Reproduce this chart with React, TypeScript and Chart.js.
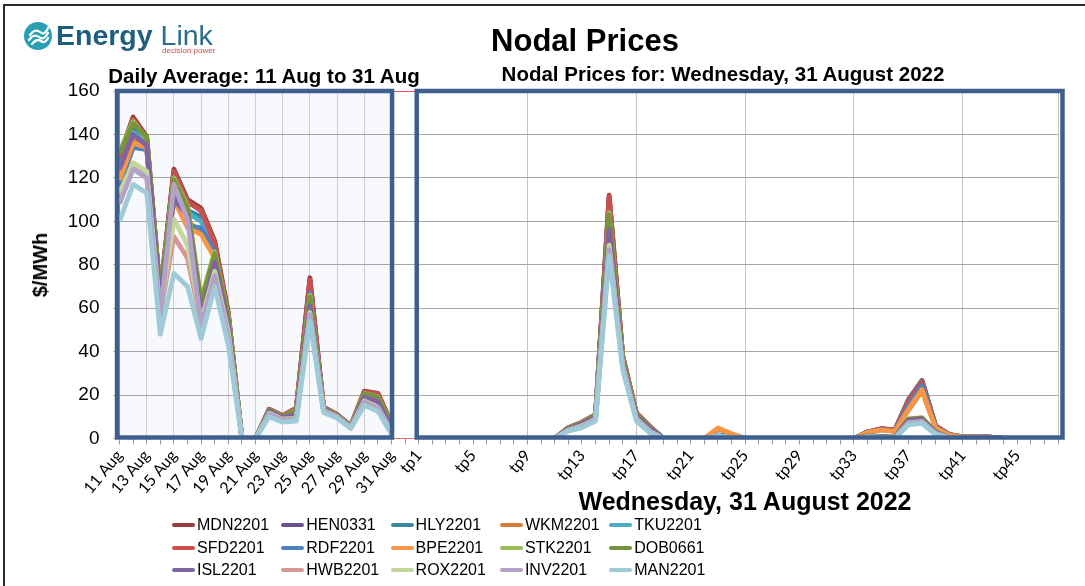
import React, { useEffect, useRef } from 'react';
import { Chart, registerables } from 'chart.js';

Chart.register(...registerables);

// ---------- categories / tick labels ----------
const days = [
  '11 Aug', '12 Aug', '13 Aug', '14 Aug', '15 Aug', '16 Aug', '17 Aug', '18 Aug', '19 Aug', '20 Aug',
  '21 Aug', '22 Aug', '23 Aug', '24 Aug', '25 Aug', '26 Aug', '27 Aug', '28 Aug', '29 Aug', '30 Aug', '31 Aug',
];
const periods = Array.from({ length: 48 }, (_, i) => `tp${i + 1}`);
const yMin = 0;
const yMax = 160;
const yStep = 20;

const seriesNames = [
  'MDN2201', 'HEN0331', 'HLY2201', 'WKM2201', 'TKU2201',
  'SFD2201', 'RDF2201', 'BPE2201', 'STK2201', 'DOB0661',
  'ISL2201', 'HWB2201', 'ROX2201', 'INV2201', 'MAN2201',
];
const seriesColors = [
  '#9b3b3a', '#68508a', '#358a9f', '#d77b36', '#4bacc6',
  '#c9504d', '#4f81bd', '#f79646', '#9bbb59', '#77933c',
  '#8064a2', '#d99694', '#c3d69b', '#b3a2c7', '#9fcbd9',
];

// ---------- daily averages, 11 Aug .. 31 Aug ----------
const MDN2201_daily = [130, 148, 139, 67, 124, 110, 106, 91, 58, 0, 0, 13.5, 10.5, 14, 74, 14.5, 11, 5.8, 21.8, 20.8, 6.8];
const HEN0331_daily = [127, 146, 138, 66, 123, 109, 105, 90, 57, 0, 0, 13.3, 10.3, 13.8, 73, 14.3, 10.9, 5.7, 21.5, 20.5, 6.6];
const HLY2201_daily = [125, 143, 137, 65, 114, 105, 102, 88, 56, 0, 0, 13, 10, 13.5, 70, 14, 10.7, 5.6, 20.5, 19, 6.2];
const WKM2201_daily = [120, 137, 134, 63, 112, 100, 95, 84, 54, 0, 0, 12.5, 9.5, 12.5, 66, 13.6, 10.4, 5.4, 19.8, 17.5, 5.8];
const TKU2201_daily = [124, 141, 136, 64, 113, 104, 100, 87, 55, 0, 0, 12.8, 9.8, 13.2, 69, 13.9, 10.6, 5.5, 20.2, 18.8, 6];
const SFD2201_daily = [129, 147, 138, 66, 123, 109, 105, 90, 57, 0, 0, 13.4, 10.4, 13.9, 73, 14.4, 11, 5.8, 21.6, 20.6, 6.7];
const RDF2201_daily = [116, 134, 133, 63, 111, 98, 97, 86, 54, 0, 0, 12.4, 9.6, 11.5, 67, 13.5, 10.3, 5.4, 19.5, 17.2, 5.5];
const BPE2201_daily = [119, 136, 134, 62, 110, 97, 94, 83, 53, 0, 0, 12.3, 9.4, 11, 65, 13.4, 10.2, 5.3, 19.2, 16.8, 5.3];
const STK2201_daily = [132, 146, 138, 66, 120, 107, 64, 86, 56, 0, 0, 13, 10, 13, 66, 14, 10.7, 5.6, 20.8, 19.2, 6.2];
const DOB0661_daily = [131, 145, 139, 66, 119, 106, 62, 85, 55, 0, 0, 13, 10, 12.8, 65, 14, 10.6, 5.5, 20.6, 19, 6];
const ISL2201_daily = [124, 140, 135, 63, 110, 103, 56, 81, 52, 0, 0, 12.5, 9.6, 11, 61, 13.5, 10.3, 5.3, 19, 17, 5];
const HWB2201_daily = [112, 126, 122, 57, 93, 83, 53, 76, 48, 0, 0, 11.5, 8.8, 9, 57, 12.8, 9.9, 5, 17, 14, 3];
const ROX2201_daily = [113, 127, 123, 58, 101, 89, 54, 77, 49, 0, 0, 11.6, 8.9, 9.2, 58, 12.9, 10, 5, 17.3, 14.3, 3.2];
const INV2201_daily = [108, 124, 120, 56, 117, 101, 52, 75, 47, 0, 0, 11.2, 8.6, 8.8, 57, 12.7, 9.8, 4.9, 16.8, 13.8, 2.8];
const MAN2201_daily = [100, 117, 113, 48, 76, 70, 46, 70, 43, 0, 0, 10, 7.5, 8, 54, 12, 9.4, 4.6, 15.2, 12.5, 2];

// ---------- trading periods tp1 .. tp48, Wednesday 31 August 2022 ----------
const MDN2201_tp = [0, 0, 0, 0, 0, 0, 0, 0, 0, 0, 0, 5, 7.5, 11, 112, 38, 11.8, 5.5, 0, 0, 0, 0, 1.5, 0.5, 0, 0, 0, 0, 0, 0, 0, 0, 0, 3, 4.5, 3.8, 17.5, 26.5, 5.8, 1.8, 0.8, 0.8, 0.6, 0, 0, 0, 0, 0];
const HEN0331_tp = [0, 0, 0, 0, 0, 0, 0, 0, 0, 0, 0, 4.9, 7.4, 10.8, 111, 37.5, 11.6, 5.4, 0, 0, 0, 0, 1.5, 0.5, 0, 0, 0, 0, 0, 0, 0, 0, 0, 3, 4.4, 3.7, 17.5, 26.5, 5.7, 1.8, 0.8, 0.8, 0.6, 0, 0, 0, 0, 0];
const HLY2201_tp = [0, 0, 0, 0, 0, 0, 0, 0, 0, 0, 0, 4.8, 7.3, 10.6, 107, 37, 11.3, 5.2, 0, 0, 0, 0, 1.6, 0.5, 0, 0, 0, 0, 0, 0, 0, 0, 0, 3, 4.4, 3.7, 18, 26.8, 5.8, 1.8, 0.8, 0.8, 0.6, 0, 0, 0, 0, 0];
const WKM2201_tp = [0, 0, 0, 0, 0, 0, 0, 0, 0, 0, 0, 4.6, 7, 10.2, 100, 35.5, 10.8, 4.9, 0, 0, 0, 0, 4.5, 2, 0, 0, 0, 0, 0, 0, 0, 0, 0, 2.8, 4.1, 3.4, 13, 22, 4.9, 1.6, 0.7, 0.7, 0.5, 0, 0, 0, 0, 0];
const TKU2201_tp = [0, 0, 0, 0, 0, 0, 0, 0, 0, 0, 0, 4.7, 7.2, 10.5, 106, 36.5, 11.2, 5.1, 0, 0, 0, 0, 1.5, 0.5, 0, 0, 0, 0, 0, 0, 0, 0, 0, 2.9, 4.3, 3.6, 17, 25.8, 5.5, 1.7, 0.8, 0.8, 0.6, 0, 0, 0, 0, 0];
const SFD2201_tp = [0, 0, 0, 0, 0, 0, 0, 0, 0, 0, 0, 5, 7.5, 11, 111.5, 37.8, 11.7, 5.5, 0, 0, 0, 0, 1.5, 0.5, 0, 0, 0, 0, 0, 0, 0, 0, 0, 3, 4.5, 3.8, 17.3, 26.3, 5.7, 1.8, 0.8, 0.8, 0.6, 0, 0, 0, 0, 0];
const RDF2201_tp = [0, 0, 0, 0, 0, 0, 0, 0, 0, 0, 0, 4.6, 7, 10.1, 99, 35, 10.7, 4.8, 0, 0, 0, 0, 1.6, 0.6, 0, 0, 0, 0, 0, 0, 0, 0, 0, 2.8, 4.1, 3.4, 15, 24.5, 5.2, 1.7, 0.7, 0.7, 0.5, 0, 0, 0, 0, 0];
const BPE2201_tp = [0, 0, 0, 0, 0, 0, 0, 0, 0, 0, 0, 4.5, 6.9, 10, 98, 34.8, 10.6, 4.7, 0, 0, 0, 0, 4.8, 2.2, 0, 0, 0, 0, 0, 0, 0, 0, 0, 2.8, 4, 3.3, 13.5, 22.5, 4.9, 1.6, 0.7, 0.7, 0.5, 0, 0, 0, 0, 0];
const STK2201_tp = [0, 0, 0, 0, 0, 0, 0, 0, 0, 0, 0, 4.8, 7.3, 10.6, 104, 36.5, 11.2, 5.1, 0, 0, 0, 0, 1.3, 0.4, 0, 0, 0, 0, 0, 0, 0, 0, 0, 1.2, 1, 0.6, 9, 9.6, 3, 0.6, 0.3, 0.3, 0.2, 0, 0, 0, 0, 0];
const DOB0661_tp = [0, 0, 0, 0, 0, 0, 0, 0, 0, 0, 0, 4.7, 7.2, 10.5, 103, 36.3, 11.1, 5, 0, 0, 0, 0, 1.3, 0.4, 0, 0, 0, 0, 0, 0, 0, 0, 0, 1.2, 1, 0.6, 8.8, 9.4, 2.9, 0.6, 0.3, 0.3, 0.2, 0, 0, 0, 0, 0];
const ISL2201_tp = [0, 0, 0, 0, 0, 0, 0, 0, 0, 0, 0, 4.4, 6.8, 9.8, 96, 34.5, 10.4, 4.5, 0, 0, 0, 0, 1.2, 0.4, 0, 0, 0, 0, 0, 0, 0, 0, 0, 1.1, 0.9, 0.5, 8.5, 8.9, 2.8, 0.5, 0.3, 0.3, 0.2, 0, 0, 0, 0, 0];
const HWB2201_tp = [0, 0, 0, 0, 0, 0, 0, 0, 0, 0, 0, 3.8, 5.8, 8.8, 88, 33, 9, 3.2, 0, 0, 0, 0, 1.2, 0.3, 0, 0, 0, 0, 0, 0, 0, 0, 0, 0.8, 0.5, 0.2, 7, 7.6, 2.2, 0.4, 0.2, 0.2, 0.1, 0, 0, 0, 0, 0];
const ROX2201_tp = [0, 0, 0, 0, 0, 0, 0, 0, 0, 0, 0, 3.9, 5.9, 8.9, 89, 33.2, 9.1, 3.3, 0, 0, 0, 0, 1.2, 0.3, 0, 0, 0, 0, 0, 0, 0, 0, 0, 0.8, 0.5, 0.2, 7.2, 7.8, 2.3, 0.4, 0.2, 0.2, 0.1, 0, 0, 0, 0, 0];
const INV2201_tp = [0, 0, 0, 0, 0, 0, 0, 0, 0, 0, 0, 3.6, 5.5, 8.5, 87, 32.8, 8.7, 3, 0, 0, 0, 0, 1.2, 0.3, 0, 0, 0, 0, 0, 0, 0, 0, 0, 0.8, 0.5, 0.2, 7, 7.5, 2.1, 0.4, 0.2, 0.2, 0.1, 0, 0, 0, 0, 0];
const MAN2201_tp = [0, 0, 0, 0, 0, 0, 0, 0, 0, 0, 0, 3.4, 5, 8, 84, 31.5, 8, 2.6, 0, 0, 0, 0, 1.2, 0.3, 0, 0, 0, 0, 0, 0, 0, 0, 0, 0.5, 0.3, 0, 6.3, 7, 1.8, 0.3, 0.1, 0.1, 0.1, 0, 0, 0, 0, 0];

const dailySeries = [
  MDN2201_daily, HEN0331_daily, HLY2201_daily, WKM2201_daily, TKU2201_daily,
  SFD2201_daily, RDF2201_daily, BPE2201_daily, STK2201_daily, DOB0661_daily,
  ISL2201_daily, HWB2201_daily, ROX2201_daily, INV2201_daily, MAN2201_daily,
];
const tpSeries = [
  MDN2201_tp, HEN0331_tp, HLY2201_tp, WKM2201_tp, TKU2201_tp,
  SFD2201_tp, RDF2201_tp, BPE2201_tp, STK2201_tp, DOB0661_tp,
  ISL2201_tp, HWB2201_tp, ROX2201_tp, INV2201_tp, MAN2201_tp,
];

// ---------- helpers for which ticks show labels / grid lines ----------
const nDays = days.length;
const tpStart = nDays + 1;
const xLabels = [...days, '', ...periods];
const showLabel = (i: number) => {
  if (i < nDays) return i % 2 === 0;
  if (i >= tpStart) return (i - tpStart) % 4 === 0 && i - tpStart < 45;
  return false;
};
const showGrid = (i: number) => {
  if (i < nDays) return i % 2 === 0;
  if (i >= tpStart) return (i - tpStart) % 8 === 0 || i === xLabels.length - 1;
  return false;
};

const BOX = '#3e5f8e';

export default function App() {
  const ref = useRef<HTMLCanvasElement>(null);

  useEffect(() => {
    const canvas = ref.current;
    if (!canvas) return;

    const datasets = seriesNames.map((name, i) => ({
      label: name,
      data: [...dailySeries[i], null, ...tpSeries[i]],
      borderColor: seriesColors[i],
      backgroundColor: seriesColors[i],
      borderWidth: 4.8,
      pointRadius: 0,
      pointHoverRadius: 0,
      tension: 0,
      spanGaps: false,
      borderJoinStyle: 'round' as const,
      order: seriesNames.length - 1 - i,
    }));

    const panels = {
      id: 'panels',
      beforeDraw(chart: any) {
        const { ctx, chartArea, scales } = chart;
        const x = scales.x;
        const l = x.getPixelForValue(0);
        const r = x.getPixelForValue(nDays - 1);
        ctx.save();
        ctx.fillStyle = '#f8f9fc';
        ctx.fillRect(l, chartArea.top, r - l, chartArea.bottom - chartArea.top);
        ctx.restore();
      },
      afterDatasetsDraw(chart: any) {
        const { ctx, chartArea, scales } = chart;
        const x = scales.x;
        const top = chartArea.top;
        const bottom = chartArea.bottom - 1;
        ctx.save();
        ctx.strokeStyle = BOX;
        ctx.lineWidth = 4.5;
        const l1 = x.getPixelForValue(0) - 2.5;
        const r1 = x.getPixelForValue(nDays - 1) + 0.5;
        ctx.strokeRect(l1, top, r1 - l1, bottom - top);
        const l2 = x.getPixelForValue(tpStart) - 2;
        const r2 = chartArea.right + 4.5;
        ctx.strokeRect(l2, top, r2 - l2, bottom - top);
        ctx.restore();
      },
    };

    const chart = new Chart(canvas, {
      type: 'line',
      data: { labels: xLabels, datasets },
      options: {
        responsive: false,
        maintainAspectRatio: false,
        animation: false,
        devicePixelRatio: 1,
        events: [],
        layout: { padding: { left: 0, right: 27, top: 91, bottom: 87.5 } },
        plugins: { legend: { display: false }, tooltip: { enabled: false }, title: { display: false } },
        scales: {
          x: {
            type: 'category',
            offset: false,
            grid: {
              color: (c: any) => (showGrid(c.index) ? (c.index < nDays ? '#cfcfcf' : '#c4c4c4') : 'rgba(0,0,0,0)'),
              tickColor: '#9a9a9a',
              tickLength: 6,
              lineWidth: 1,
            },
            border: { color: '#e07070', width: 1 },
            ticks: {
              autoSkip: false,
              maxRotation: 50,
              minRotation: 50,
              padding: 2,
              color: '#000',
              font: { family: 'Lato', size: 16 },
              callback: (_v: any, i: number) => (showLabel(i) ? xLabels[i] : ''),
            },
            afterFit: (s: any) => { s.height = 60; },
          },
          y: {
            min: yMin,
            max: yMax,
            grid: {
              color: (c: any) => (c.tick && c.tick.value === yMax ? '#e05555' : '#a6a6a6'),
              tickColor: '#9a9a9a',
              tickLength: 6,
              lineWidth: 1,
            },
            border: { color: '#e07070', width: 1 },
            ticks: {
              stepSize: yStep,
              padding: 14,
              color: '#000',
              font: { family: '"Liberation Sans", Arial, sans-serif', size: 19 },
            },
            afterFit: (s: any) => { s.width = 119.5; },
          },
        },
      },
      plugins: [panels],
    });
    return () => chart.destroy();
  }, []);

  const text: React.CSSProperties = { position: 'absolute', whiteSpace: 'nowrap', color: '#000' };

  return (
    <div
      style={{
        position: 'fixed', left: 0, top: 0, width: 1085, height: 586, overflow: 'hidden',
        background: '#fff', fontFamily: '"Liberation Sans", Arial, sans-serif',
      }}
    >
      <div style={{ position: 'absolute', left: 3, top: 4, width: 1200, height: 800, border: '2px solid #2a2a2a' }} />
      <canvas ref={ref} width={1085} height={586} style={{ position: 'absolute', left: 0, top: 0 }} />

      {/* logo */}
      <svg style={{ position: 'absolute', left: 23, top: 21 }} width={30} height={30} viewBox="0 0 30 30">
        <circle cx={15} cy={15} r={14} fill="#2a9fb3" />
        <path d="M6 19 q5 -7 10 -3 t9 -4" stroke="#fff" strokeWidth={2.2} fill="none" strokeLinecap="round" />
        <path d="M7 14 q5 -7 10 -3 t8 -4" stroke="#fff" strokeWidth={2.2} fill="none" strokeLinecap="round" />
        <path d="M9 23 q5 -6 9 -3 t7 -3" stroke="#fff" strokeWidth={2.2} fill="none" strokeLinecap="round" />
      </svg>
      <div style={{ ...text, left: 56, top: 21, fontSize: 28.5, lineHeight: '28px', color: '#1e5f7f' }}>
        <span style={{ fontWeight: 'bold' }}>Energy</span>
        <span style={{ color: '#2a6d8d' }}> Link</span>
      </div>
      <div style={{ ...text, left: 162, top: 47, fontSize: 8, lineHeight: '8px', color: '#c0504d' }}>decision power</div>

      {/* titles */}
      <div style={{ ...text, left: 285, width: 600, textAlign: 'center', top: 25, fontSize: 31, lineHeight: '31px', fontWeight: 'bold' }}>
        Nodal Prices
      </div>
      <div style={{ ...text, left: 264 - 300, width: 600, textAlign: 'center', top: 66, fontSize: 20.5, lineHeight: '20px', fontWeight: 'bold' }}>
        Daily Average: 11 Aug to 31 Aug
      </div>
      <div style={{ ...text, left: 723 - 300, width: 600, textAlign: 'center', top: 64, fontSize: 20.5, lineHeight: '20px', fontWeight: 'bold' }}>
        Nodal Prices for: Wednesday, 31 August 2022
      </div>
      <div
        style={{
          ...text, left: 40, top: 265, fontSize: 20, lineHeight: '20px', fontWeight: 'bold',
          transform: 'translate(-50%, -50%) rotate(-90deg)',
        }}
      >
        $/MWh
      </div>
      <div style={{ ...text, left: 745 - 300, width: 600, textAlign: 'center', top: 489, fontSize: 25, lineHeight: '25px', fontWeight: 'bold' }}>
        Wednesday, 31 August 2022
      </div>

      {/* legend */}
      {seriesNames.map((name, i) => {
        const row = Math.floor(i / 5);
        const col = i % 5;
        const left = 172 + col * 109.3;
        const cy = 525 + row * 22.6;
        return (
          <React.Fragment key={name}>
            <div
              style={{
                position: 'absolute', left, top: cy - 2, width: 23, height: 4,
                background: seriesColors[i], borderRadius: 2,
              }}
            />
            <div
              style={{
                ...text, left: left + 25, top: cy - 8, fontSize: 16, lineHeight: '16px',
              }}
            >
              {name}
            </div>
          </React.Fragment>
        );
      })}
    </div>
  );
}
